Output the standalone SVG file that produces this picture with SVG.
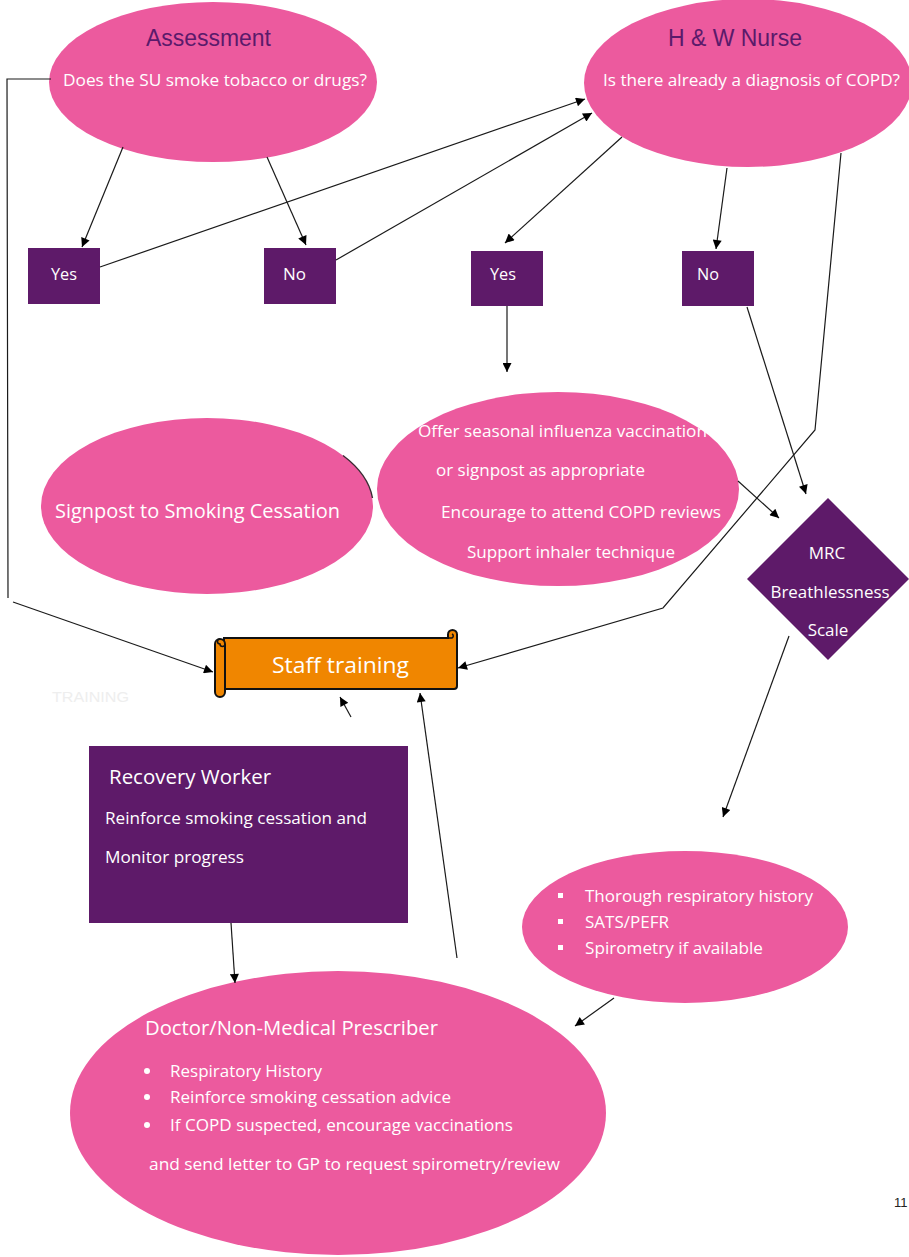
<svg xmlns="http://www.w3.org/2000/svg" width="909" height="1257" viewBox="0 0 909 1257">
<defs>
<marker id="ah" viewBox="0 0 10 10" refX="10" refY="5" markerWidth="11" markerHeight="9" markerUnits="userSpaceOnUse" orient="auto"><path d="M0,0 L10,5 L0,10 z" fill="#000"/></marker>
<style>
.pink{fill:#ec5a9e}
.purple{fill:#5e1a69}
.orange{fill:#f08600;stroke:#111;stroke-width:2}
.ttl{font-family:"Liberation Sans",Arial,sans-serif;font-size:23px;fill:#5b1a6b}
.t{font-family:"Open Sans","Noto Sans",sans-serif;font-size:17px;fill:#ffffff}
.tl{font-family:"Open Sans","Noto Sans",sans-serif;font-size:20px;fill:#ffffff}
.c{text-anchor:middle}
.ln{fill:none;stroke:#1a1a1a;stroke-width:1.2}
</style>
</defs>
<rect width="909" height="1257" fill="#ffffff"/>

<g id="assessment">
<ellipse class="pink" cx="213" cy="82" rx="164" ry="80"/>
<text class="ttl" x="146" y="46" textLength="125" lengthAdjust="spacingAndGlyphs">Assessment</text>
<text class="t" x="63" y="86" textLength="304" lengthAdjust="spacingAndGlyphs">Does the SU smoke tobacco or drugs?</text>
</g>

<g id="hw-nurse">
<ellipse class="pink" cx="748" cy="83" rx="164" ry="84"/>
<text class="ttl" x="668" y="46" textLength="134" lengthAdjust="spacingAndGlyphs">H &amp; W Nurse</text>
<text class="t" x="603" y="86" textLength="297" lengthAdjust="spacingAndGlyphs">Is there already a diagnosis of COPD?</text>
</g>

<g id="yes1">
<rect class="purple" x="28" y="248" width="72" height="56"/>
<text class="t" x="51" y="280" textLength="26" lengthAdjust="spacingAndGlyphs">Yes</text>
</g>
<g id="no1">
<rect class="purple" x="264" y="248" width="72" height="56"/>
<text class="t" x="283" y="280" textLength="23" lengthAdjust="spacingAndGlyphs">No</text>
</g>
<g id="yes2">
<rect class="purple" x="471" y="251" width="72" height="55"/>
<text class="t" x="490" y="280" textLength="26" lengthAdjust="spacingAndGlyphs">Yes</text>
</g>
<g id="no2">
<rect class="purple" x="682" y="251" width="72" height="55"/>
<text class="t" x="697" y="280" textLength="22" lengthAdjust="spacingAndGlyphs">No</text>
</g>

<g id="signpost">
<ellipse class="pink" cx="207" cy="506" rx="166" ry="88"/>
<path d="M343,455.5 A166 88 0 0 1 372.5 498" fill="none" stroke="#3a2a33" stroke-width="1.4"/>
<text class="tl" x="55" y="518" textLength="285" lengthAdjust="spacingAndGlyphs">Signpost to Smoking Cessation</text>
</g>

<g id="offer">
<ellipse class="pink" cx="558" cy="489" rx="181" ry="97"/>
<text class="t" x="418" y="437" textLength="289" lengthAdjust="spacingAndGlyphs">Offer seasonal influenza vaccination</text>
<text class="t" x="436" y="476" textLength="209" lengthAdjust="spacingAndGlyphs">or signpost as appropriate</text>
<text class="t" x="441" y="518" textLength="280" lengthAdjust="spacingAndGlyphs">Encourage to attend COPD reviews</text>
<text class="t" x="467" y="558" textLength="208" lengthAdjust="spacingAndGlyphs">Support inhaler technique</text>
</g>

<g id="mrc">
<polygon class="purple" points="828,498 909,579 828,660 747,579"/>
<text class="t c" x="827" y="559">MRC</text>
<text class="t c" x="830" y="598" textLength="119" lengthAdjust="spacingAndGlyphs">Breathlessness</text>
<text class="t c" x="828" y="636">Scale</text>
</g>

<g id="staff-training">
<path class="orange" d="M224,638 L448,638 L448,634.5 A4.5 4.5 0 0 1 457,634.5 L457,686 Q457,689 454,689 L224,689 Z"/>
<path d="M448,638 L452,638 A2.2 2.2 0 0 0 452,634" fill="none" stroke="#111" stroke-width="1.5"/>
<rect class="orange" x="215" y="639" width="10" height="58" rx="5"/>
<path d="M220,639 A2.5 2.5 0 0 0 220,644 A2.5 2.5 0 0 0 225,644" fill="none" stroke="#111" stroke-width="1.5"/>
<text class="tl" x="272" y="673" textLength="137" lengthAdjust="spacingAndGlyphs" style="font-size:21px">Staff training</text>
</g>

<text x="52" y="702" font-family="Liberation Sans, Arial, sans-serif" font-size="14" fill="#eeeeee" textLength="77" lengthAdjust="spacingAndGlyphs">TRAINING</text>

<g id="recovery-worker">
<rect class="purple" x="89" y="746" width="319" height="177"/>
<text class="tl" x="109" y="784" textLength="162" lengthAdjust="spacingAndGlyphs">Recovery Worker</text>
<text class="t" x="105" y="824" textLength="262" lengthAdjust="spacingAndGlyphs">Reinforce smoking cessation and</text>
<text class="t" x="105" y="863" textLength="139" lengthAdjust="spacingAndGlyphs">Monitor progress</text>
</g>

<g id="history">
<ellipse class="pink" cx="685" cy="927" rx="163" ry="76"/>
<rect x="558" y="893" width="5" height="5" fill="#fff"/>
<rect x="558" y="919" width="5" height="5" fill="#fff"/>
<rect x="558" y="945" width="5" height="5" fill="#fff"/>
<text class="t" x="585" y="902" textLength="228" lengthAdjust="spacingAndGlyphs">Thorough respiratory history</text>
<text class="t" x="585" y="928" textLength="84" lengthAdjust="spacingAndGlyphs">SATS/PEFR</text>
<text class="t" x="585" y="954" textLength="178" lengthAdjust="spacingAndGlyphs">Spirometry if available</text>
</g>

<g id="doctor">
<ellipse class="pink" cx="338" cy="1113" rx="268" ry="142"/>
<text class="tl" x="145" y="1035" textLength="293" lengthAdjust="spacingAndGlyphs">Doctor/Non-Medical Prescriber</text>
<circle cx="147" cy="1071" r="3" fill="#fff"/>
<circle cx="147" cy="1097" r="3" fill="#fff"/>
<circle cx="147" cy="1125" r="3" fill="#fff"/>
<text class="t" x="170" y="1077" textLength="152" lengthAdjust="spacingAndGlyphs">Respiratory History</text>
<text class="t" x="170" y="1103" textLength="281" lengthAdjust="spacingAndGlyphs">Reinforce smoking cessation advice</text>
<text class="t" x="170" y="1131" textLength="343" lengthAdjust="spacingAndGlyphs">If COPD suspected, encourage vaccinations</text>
<text class="t" x="149" y="1170" textLength="411" lengthAdjust="spacingAndGlyphs">and send letter to GP to request spirometry/review</text>
</g>

<text x="894" y="1207" font-family="Liberation Sans, Arial, sans-serif" font-size="13" fill="#222">11</text>

<g id="connectors">
<line class="ln" x1="123" y1="147" x2="82" y2="247" marker-end="url(#ah)"/>
<line class="ln" x1="267" y1="157" x2="306" y2="245" marker-end="url(#ah)"/>
<line class="ln" x1="100" y1="267" x2="585" y2="99" marker-end="url(#ah)"/>
<line class="ln" x1="336" y1="260" x2="592" y2="113" marker-end="url(#ah)"/>
<line class="ln" x1="622" y1="137" x2="505" y2="243" marker-end="url(#ah)"/>
<line class="ln" x1="727" y1="168" x2="716" y2="249" marker-end="url(#ah)"/>
<polyline class="ln" points="841,153 815,430 663,608 458,668" marker-end="url(#ah)"/>
<line class="ln" x1="507" y1="306" x2="507" y2="372" marker-end="url(#ah)"/>
<line class="ln" x1="747" y1="307" x2="806" y2="494" marker-end="url(#ah)"/>
<line class="ln" x1="738" y1="481" x2="779" y2="518" marker-end="url(#ah)"/>
<polyline class="ln" points="51,79 7,79 8,598"/>
<line class="ln" x1="13" y1="602" x2="213" y2="672" marker-end="url(#ah)"/>
<line class="ln" x1="351" y1="717" x2="340" y2="697" marker-end="url(#ah)"/>
<line class="ln" x1="457" y1="958" x2="420" y2="693" marker-end="url(#ah)"/>
<line class="ln" x1="231" y1="923" x2="235" y2="983" marker-end="url(#ah)"/>
<line class="ln" x1="789" y1="636" x2="723" y2="817" marker-end="url(#ah)"/>
<line class="ln" x1="614" y1="998" x2="575" y2="1026" marker-end="url(#ah)"/>
</g>
</svg>
